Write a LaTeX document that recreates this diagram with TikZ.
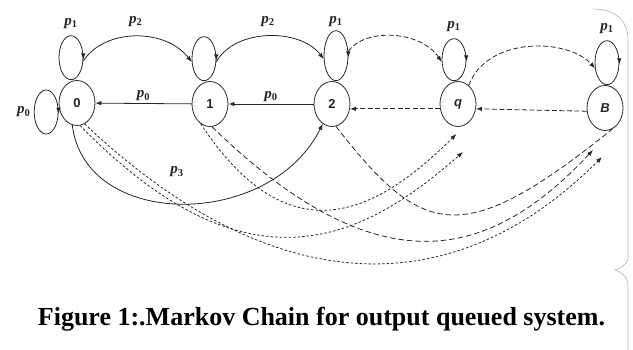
\documentclass[tikz,border=0pt]{standalone}
\usepackage{fontspec}
\setmainfont{Liberation Serif}
\newfontfamily\statefont{Liberation Sans}
\usetikzlibrary{arrows.meta,positioning,shapes.geometric}
\newcommand{\plab}[1]{{\bfseries\itshape p}\textsubscript{\bfseries #1}}

\begin{document}
\begin{tikzpicture}[x=1pt,y=-1pt,color=black!85,line width=0.8pt,
    state/.style={draw,ellipse,inner sep=0pt,minimum width=36pt,minimum height=45pt,
        font=\statefont\bfseries\fontsize{13}{13}\selectfont},
    selfloop/.style={draw,ellipse,inner sep=0pt,minimum width=24pt,minimum height=44pt},
    prob/.style={font=\fontsize{15}{15}\selectfont,inner sep=1pt},
    arrowed/.style={-{Latex[length=6pt,width=4.5pt]}},
    midash/.style={dash pattern=on 5pt off 2.5pt},
    dotline/.style={dash pattern=on 2.5pt off 2pt},
    longdash/.style={dash pattern=on 5.5pt off 3pt}]
\useasboundingbox (0,0) rectangle (633,350);

% states
\node[state] (s0) at (77,103) {0};
\node[state] (s1) at (210,104) {1};
\node[state] (s2) at (332,104) {2};
\node[state] (sq) at (458,104) {\itshape q};
\node[state] (sB) at (605,108) {\itshape B};

% self loops
\node[selfloop, above=0pt of s0, xshift=-6pt] (l0) {};
\node[selfloop, above=0pt of s1, xshift=-6pt] (l1) {};
\node[selfloop, above=0pt of s2, xshift=4pt, minimum height=50pt] (l2) {};
\node[selfloop, above=0pt of sq, xshift=-4pt, minimum height=42pt] (lq) {};
\node[selfloop, above=0pt of sB, xshift=2pt] (lB) {};
\node[selfloop, left=0pt of s0, yshift=-9pt] (lz) {};
\foreach \l in {l0,l1,l2,lq,lB,lz}
    \draw[arrowed] (\l.15) -- (\l.-8);

\node[prob, above=5pt of l0] {\plab{1}};
\node[prob, above=2pt of l2] {\plab{1}};
\node[prob, above=5pt of lq] {\plab{1}};
\node[prob, above=5pt of lB] {\plab{1}};
\node[prob, left=2pt of lz] {\plab{0}};

% forward arcs
\draw[arrowed] (l0.-15) .. controls (105,28) and (165,28) .. node[prob, above=8pt] {\plab{2}} (l1.195);
\draw[arrowed] (l1.-15) .. controls (235,28) and (300,28) .. node[prob, above=8pt] {\plab{2}} (l2.195);
\draw[arrowed, midash] (l2.20) .. controls (365,28) and (420,30) .. (lq.190);
\draw[arrowed, midash] (sq.60) .. controls (487,36) and (568,38) .. (lB.205);

% back steps
\draw[arrowed] (s1) -- node[prob, above=1pt] {\plab{0}} (s0);
\draw[arrowed] (s2) -- node[prob, above=1pt] {\plab{0}} (s1);
\draw[arrowed, midash] (sq.195) -- (s2.-15);
\draw[arrowed, midash] (sB.190) -- (sq.-15);

% long jumps
\coordinate (q end) at (463,152);
\coordinate (B end1) at (593,150);
\coordinate (B end0) at (602,157);
\draw[arrowed] (s0.258) .. controls (85,230) and (270,230) .. (s2.245);
\node[prob] (p3) at (177,172) {\plab{3}};
\draw[arrowed, dotline] (s0.278) .. controls (252,302) and (367,236) .. (q end);
\draw[arrowed, dotline] (s0.290) .. controls (261,291) and (444,315) .. (B end0);
\draw[arrowed, dotline, shorten >=13pt] (s1.245) .. controls (291,261) and (379,211) .. (sq.290);
\draw[arrowed, longdash] (s1.275) .. controls (380,290) and (490,260) .. (B end1);
\draw[longdash] (s2.280) .. controls (423,238) and (462,250) .. (sB.290);

% caption
\node[anchor=base, text=black, font=\fontsize{26}{30}\selectfont\bfseries] (caption) at (321.5,326)
    {Figure 1:.Markov Chain for output queued system.};

% page edge
\draw[black!30, line width=0.6pt] (593,9) .. controls (615,9) and (628,20) .. (628,40)
    -- (628,257) .. controls (628,265) and (620,268) .. (615,270)
    .. controls (620,272) and (628,276) .. (628,285) -- (628,350);
\end{tikzpicture}
\end{document}
